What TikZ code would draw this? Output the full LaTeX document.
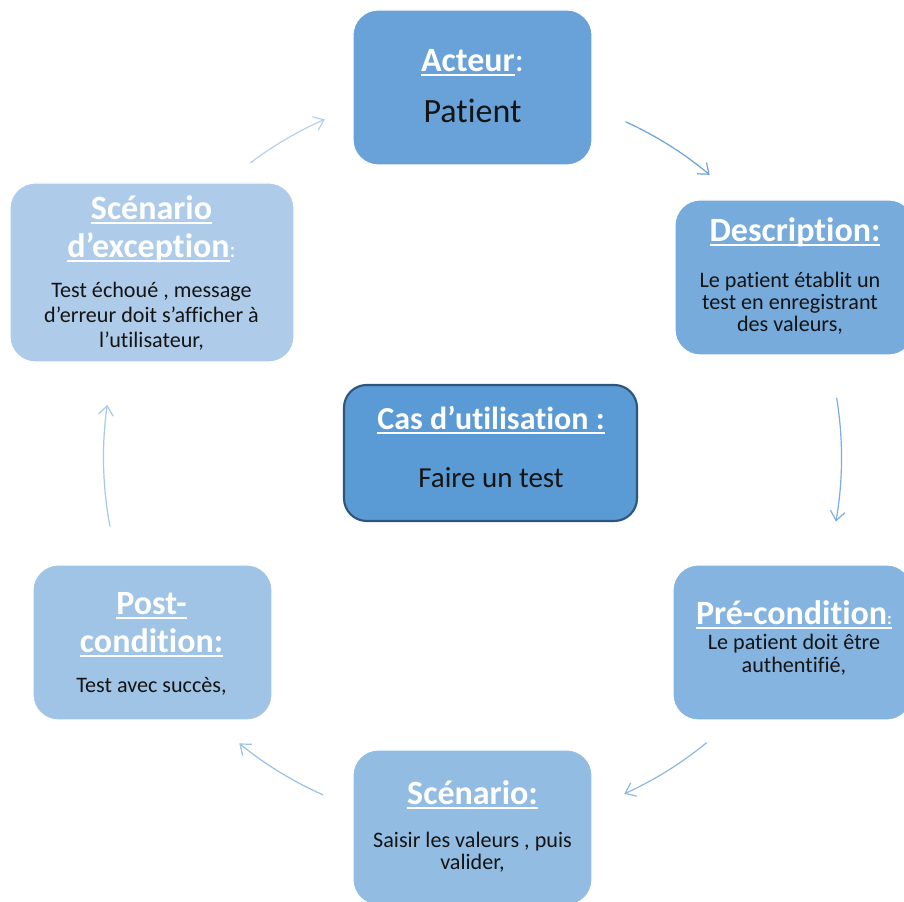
\documentclass[tikz,border=0pt]{standalone}
\usepackage{fontspec}
\setmainfont{Carlito}[Ligatures={NoCommon}]
\usetikzlibrary{arrows.meta}

% fills of the cycle boxes, darkest to lightest
\definecolor{boxA}{RGB}{104,162,216}
\definecolor{boxB}{RGB}{118,171,220}
\definecolor{boxC}{RGB}{132,180,223}
\definecolor{boxD}{RGB}{146,188,226}
\definecolor{boxE}{RGB}{160,196,229}
\definecolor{boxF}{RGB}{174,204,233}
\definecolor{hubfill}{RGB}{91,155,213}
\definecolor{hubline}{RGB}{46,84,128}
\definecolor{bodytext}{RGB}{20,20,20}
% arrow colours along the cycle
\definecolor{arrA}{RGB}{108,163,217}
\definecolor{arrB}{RGB}{124,174,221}
\definecolor{arrC}{RGB}{140,184,225}
\definecolor{arrD}{RGB}{154,192,228}
\definecolor{arrE}{RGB}{168,200,232}
\definecolor{arrF}{RGB}{182,208,236}

% white underline drawn as a rule below the text
\newsavebox\ulbox
\newcommand{\ulw}[1]{\sbox\ulbox{#1}\leavevmode\rlap{\rule[-0.11em]{\wd\ulbox}{0.06em}}\usebox\ulbox}

\tikzset{
  cycbox/.style={rounded corners=19pt, minimum width=179.25pt, minimum height=116.25pt,
                 draw=white, line width=0.8pt, inner sep=0pt},
  ttl/.style={anchor=base, text=white, inner sep=0pt,
              font=\fontsize{25.5}{28.5}\selectfont\bfseries},
  bodyblk/.style={anchor=base, text=bodytext, inner sep=0pt},
  cycarrow/.style={line width=0.9pt, -{Straight Barb[length=7pt,width=11pt]}}
}

\newcommand{\blk}[3]{\parbox[t]{200pt}{\centering\fontsize{#1}{#2}\selectfont #3}}

\begin{document}
\begin{tikzpicture}[x=0.75pt,y=0.75pt]
\useasboundingbox (0,0) rectangle (904,902);
\clip (0,0) rectangle (904,902);
\fill[white] (0,0) rectangle (904,902);

% boxes of the cycle
\node[cycbox, fill=boxA] (acteur) at (472.5,814.5) {};
\node[cycbox, fill=boxB] (desc) at (794.5,624.5) {};
\node[cycbox, fill=boxC] (pre) at (792.5,259.5) {};
\node[cycbox, fill=boxD] (scen) at (472.5,74.5) {};
\node[cycbox, fill=boxE] (post) at (152.5,259.5) {};
\node[cycbox, fill=boxF, minimum width=213pt, minimum height=134.25pt] (exc) at (152,629.5) {};

% central box
\node[rounded corners=17pt, minimum width=219.75pt, minimum height=102pt,
      fill=hubfill, draw=hubline, line width=1.6pt] (cas) at (490.5,449) {};

% texts
\node[ttl] (acteur-t) at (472.5,830) {\ulw{Acteur}\mdseries:};
\node[bodyblk, font=\fontsize{25.5}{28}\selectfont] (acteur-b) at (472.5,779) {Patient};

\node[ttl] (desc-t) at (795,660) {\ulw{Description:}};
\node[bodyblk] (desc-b) at (790,614) {\blk{16.6}{16.3}{Le patient établit un\\ test en enregistrant\\ des valeurs,}};

\node[ttl] (pre-t) at (794,277) {\ulw{Pré-condition{\fontsize{13}{14}\selectfont:}}};
\node[bodyblk] (pre-b) at (794,252) {\blk{16.6}{17.25}{Le patient doit être\\ authentifié,}};

\node[ttl] (scen-t) at (472.5,97) {\ulw{Scénario:}};
\node[bodyblk] (scen-b) at (472.5,54) {\blk{16.6}{16.5}{Saisir les valeurs , puis\\ valider,}};

\node[ttl] (post-t) at (151.5,287) {\parbox[t]{170pt}{\centering\ulw{Post-}\\\ulw{condition:}}};
\node[bodyblk] (post-b) at (151.5,209) {\blk{16.6}{18}{Test avec succès,}};

\node[ttl] (exc-t) at (151.5,682) {\parbox[t]{200pt}{\centering\ulw{Scénario}\\\ulw{d’exception}{\mdseries\fontsize{17}{18}\selectfont:}}};
\node[bodyblk] (exc-b) at (151.5,604) {\blk{16.6}{18.4}{Test échoué , message\\ d’erreur doit s’afficher à\\ l’utilisateur,}};

\node[ttl, font=\fontsize{24}{28}\selectfont\bfseries] (cas-t) at (491,472) {\ulw{Cas d’utilisation :}};
\node[bodyblk, font=\fontsize{21.75}{26}\selectfont] (cas-b) at (491,414) {Faire un test};

% arcs of the cycle around the centre
\coordinate (hub) at (472.5,444.5);
\def\R{276.75pt}
\draw[cycarrow, draw=arrA] ([shift={(65.5:\R)}]hub) arc[start angle=65.5, end angle=50, radius=\R];
\draw[cycarrow, draw=arrB] ([shift={(9.3:\R)}]hub) arc[start angle=9.3, end angle=-10, radius=\R];
\draw[cycarrow, draw=arrC] ([shift={(-50.6:\R)}]hub) arc[start angle=-50.6, end angle=-65.7, radius=\R];
\draw[cycarrow, draw=arrD] ([shift={(-113.9:\R)}]hub) arc[start angle=-113.9, end angle=-129.2, radius=\R];
\draw[cycarrow, draw=arrE] ([shift={(190.8:\R)}]hub) arc[start angle=190.8, end angle=171.8, radius=\R];
\draw[cycarrow, draw=arrF] ([shift={(127:\R)}]hub) arc[start angle=127, end angle=113.6, radius=\R];
\end{tikzpicture}
\end{document}
